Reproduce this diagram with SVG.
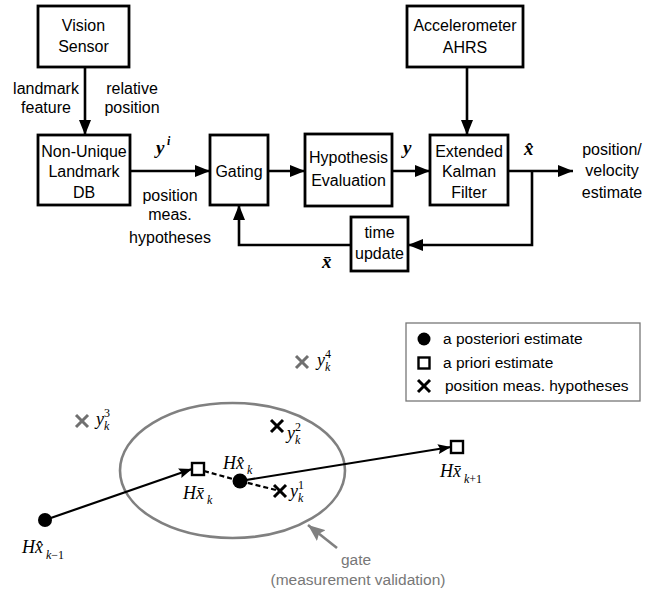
<svg xmlns="http://www.w3.org/2000/svg" width="658" height="594" viewBox="0 0 658 594">
<defs>
<style>
.box{fill:#fff;stroke:#000;stroke-width:2.8}
.t{font-family:"Liberation Sans",Arial,sans-serif;font-size:16px;fill:#000;text-anchor:middle}
.tl{font-family:"Liberation Sans",Arial,sans-serif;font-size:15.5px;fill:#000}
.g{fill:#777}
.m{font-family:"Liberation Serif","Times New Roman",serif;font-style:italic;font-size:18px;fill:#000}
.mb{font-family:"Liberation Serif","Times New Roman",serif;font-style:italic;font-weight:bold;font-size:19px;fill:#000}
.s{font-family:"Liberation Serif","Times New Roman",serif;font-style:italic;font-size:12px;fill:#000}
.sn{font-family:"Liberation Serif","Times New Roman",serif;font-size:12px;fill:#000}
.c{fill:none;stroke:#000;stroke-width:2.6}
.c2{fill:none;stroke:#000;stroke-width:2.2}
.x{stroke:#000;stroke-width:3;stroke-linecap:butt}
.xg{stroke:#707070;stroke-width:3}
</style>
<marker id="ah" markerUnits="userSpaceOnUse" markerWidth="16" markerHeight="12" refX="15" refY="6" orient="auto">
<path d="M0,0 L15,6 L0,12 z" fill="#000"/>
</marker>
<marker id="ah2" markerUnits="userSpaceOnUse" markerWidth="14" markerHeight="10" refX="13" refY="5" orient="auto">
<path d="M0,0 L13,5 L0,10 L2,5 z" fill="#000"/>
</marker>
<marker id="ahg" markerUnits="userSpaceOnUse" markerWidth="18" markerHeight="14" refX="17" refY="7" orient="auto">
<path d="M0,0 L17,7 L0,14 L3,7 z" fill="#808080"/>
</marker>
</defs>
<rect width="658" height="594" fill="#fff"/>

<g id="connectors">
<line class="c" x1="85" y1="67" x2="85" y2="135" marker-end="url(#ah)"/>
<line class="c" x1="130" y1="171" x2="210" y2="171" marker-end="url(#ah)"/>
<line class="c" x1="268" y1="171" x2="305" y2="171" marker-end="url(#ah)"/>
<line class="c" x1="392" y1="171" x2="430" y2="171" marker-end="url(#ah)"/>
<line class="c" x1="467" y1="67" x2="467" y2="135" marker-end="url(#ah)"/>
<line class="c" x1="508" y1="171" x2="573" y2="171" marker-end="url(#ah)"/>
<polyline class="c" points="532,171 532,245 408,245" marker-end="url(#ah)"/>
<polyline class="c" points="351,245 239,245 239,205" marker-end="url(#ah)"/>
</g>

<g id="vision-sensor">
<rect class="box" x="38" y="6" width="91" height="61"/>
<text class="t" x="83.5" y="31">Vision</text>
<text class="t" x="83.5" y="52">Sensor</text>
</g>
<g id="label-landmark">
<text class="t" x="46" y="94">landmark</text>
<text class="t" x="46" y="113">feature</text>
<text class="t" x="132" y="94">relative</text>
<text class="t" x="132" y="113">position</text>
</g>
<g id="landmark-db">
<rect class="box" x="38" y="135" width="92" height="70"/>
<text class="t" x="84" y="157">Non-Unique</text>
<text class="t" x="84" y="177">Landmark</text>
<text class="t" x="84" y="198">DB</text>
</g>
<g id="label-yi">
<text class="mb" x="156" y="154">y</text>
<text class="s" x="167" y="145" font-weight="bold">i</text>
<text class="t" x="170" y="201">position</text>
<text class="t" x="170" y="220">meas.</text>
<text class="t" x="170" y="243">hypotheses</text>
</g>
<g id="gating">
<rect class="box" x="210" y="135" width="58" height="70"/>
<text class="t" x="239" y="177">Gating</text>
</g>
<g id="hypothesis-evaluation">
<rect class="box" x="305" y="134" width="87" height="72"/>
<text class="t" x="348.5" y="163">Hypothesis</text>
<text class="t" x="348.5" y="186">Evaluation</text>
</g>
<g id="label-y">
<text class="mb" x="403" y="154">y</text>
</g>
<g id="accelerometer">
<rect class="box" x="407" y="6" width="116" height="61"/>
<text class="t" x="465" y="31">Accelerometer</text>
<text class="t" x="465" y="53">AHRS</text>
</g>
<g id="ekf">
<rect class="box" x="430" y="135" width="78" height="70"/>
<text class="t" x="469" y="157">Extended</text>
<text class="t" x="469" y="177">Kalman</text>
<text class="t" x="469" y="198">Filter</text>
</g>
<g id="label-xhat">
<text class="mb" x="524" y="155">x&#x302;</text>
</g>
<g id="output">
<text class="t" x="612" y="155">position/</text>
<text class="t" x="612" y="176">velocity</text>
<text class="t" x="612" y="198">estimate</text>
</g>
<g id="time-update">
<rect class="box" x="351" y="217" width="57" height="54"/>
<text class="t" x="379.5" y="238">time</text>
<text class="t" x="379.5" y="259">update</text>
</g>
<g id="label-xbar">
<text class="mb" x="322" y="268">x&#x304;</text>
</g>

<!-- bottom -->
<g id="legend">
<rect x="406" y="323" width="234" height="78" fill="#fff" stroke="#777" stroke-width="1.3"/>
<circle cx="424" cy="339" r="6.5" fill="#000"/>
<text class="tl" x="443" y="344">a posteriori estimate</text>
<rect x="418.5" y="357.5" width="11" height="11" fill="#fff" stroke="#000" stroke-width="2.4"/>
<text class="tl" x="443" y="368">a priori estimate</text>
<line class="x" x1="418" y1="380" x2="430" y2="392"/>
<line class="x" x1="430" y1="380" x2="418" y2="392"/>
<text class="tl" x="445" y="391">position meas. hypotheses</text>
</g>

<g id="gate">
<ellipse cx="232.5" cy="470.5" rx="112.5" ry="67.5" fill="none" stroke="#808080" stroke-width="2.6"/>
<line x1="337" y1="548" x2="308" y2="525" stroke="#808080" stroke-width="2.6" marker-end="url(#ahg)"/>
<text class="tl g" x="356" y="565" text-anchor="middle">gate</text>
<text class="tl g" x="358" y="585" text-anchor="middle">(measurement validation)</text>
</g>

<g id="trajectory">
<line class="c2" x1="45" y1="520" x2="192" y2="469" marker-end="url(#ah2)"/>
<line class="c2" x1="240" y1="481" x2="451" y2="447" marker-end="url(#ah2)"/>
<line x1="204" y1="471" x2="240" y2="481" stroke="#000" stroke-width="2.2" stroke-dasharray="5,3"/>
<line x1="240" y1="481" x2="276" y2="490" stroke="#000" stroke-width="2.2" stroke-dasharray="5,3"/>
</g>

<g id="x-km1">
<circle cx="45" cy="520" r="7" fill="#000"/>
<text class="m" x="22" y="553">Hx&#x302;</text>
<text class="s" x="46" y="559">k<tspan class="sn" font-style="normal">−1</tspan></text>
</g>
<g id="xbar-k">
<rect x="192" y="463" width="12" height="12" fill="#fff" stroke="#000" stroke-width="2.4"/>
<text class="m" x="183" y="499">Hx&#x304;</text>
<text class="s" x="207" y="504">k</text>
</g>
<g id="xhat-k">
<circle cx="240" cy="481" r="7.5" fill="#000"/>
<text class="m" x="223" y="469">Hx&#x302;</text>
<text class="s" x="247" y="474">k</text>
</g>
<g id="xbar-k1">
<rect x="451" y="441" width="12" height="12" fill="#fff" stroke="#000" stroke-width="2.4"/>
<text class="m" x="440" y="477">Hx&#x304;</text>
<text class="s" x="464" y="483">k<tspan class="sn" font-style="normal">+1</tspan></text>
</g>
<g id="y1">
<line class="x" x1="274" y1="485" x2="286" y2="497"/>
<line class="x" x1="286" y1="485" x2="274" y2="497"/>
<text class="m" x="290" y="497">y</text>
<text class="sn" x="298" y="489">1</text>
<text class="s" x="298" y="502">k</text>
</g>
<g id="y2">
<line class="x" x1="271" y1="420" x2="283" y2="432"/>
<line class="x" x1="283" y1="420" x2="271" y2="432"/>
<text class="m" x="287" y="439">y</text>
<text class="sn" x="295" y="431">2</text>
<text class="s" x="295" y="444">k</text>
</g>
<g id="y3">
<line class="xg" x1="76" y1="415" x2="88" y2="427"/>
<line class="xg" x1="88" y1="415" x2="76" y2="427"/>
<text class="m" x="96" y="425" fill="#333">y</text>
<text class="sn" x="104" y="417" fill="#333">3</text>
<text class="s" x="104" y="430" fill="#333">k</text>
</g>
<g id="y4">
<line class="xg" x1="296" y1="356" x2="308" y2="368"/>
<line class="xg" x1="308" y1="356" x2="296" y2="368"/>
<text class="m" x="317" y="366" fill="#333">y</text>
<text class="sn" x="325" y="358" fill="#333">4</text>
<text class="s" x="325" y="371" fill="#333">k</text>
</g>
</svg>
